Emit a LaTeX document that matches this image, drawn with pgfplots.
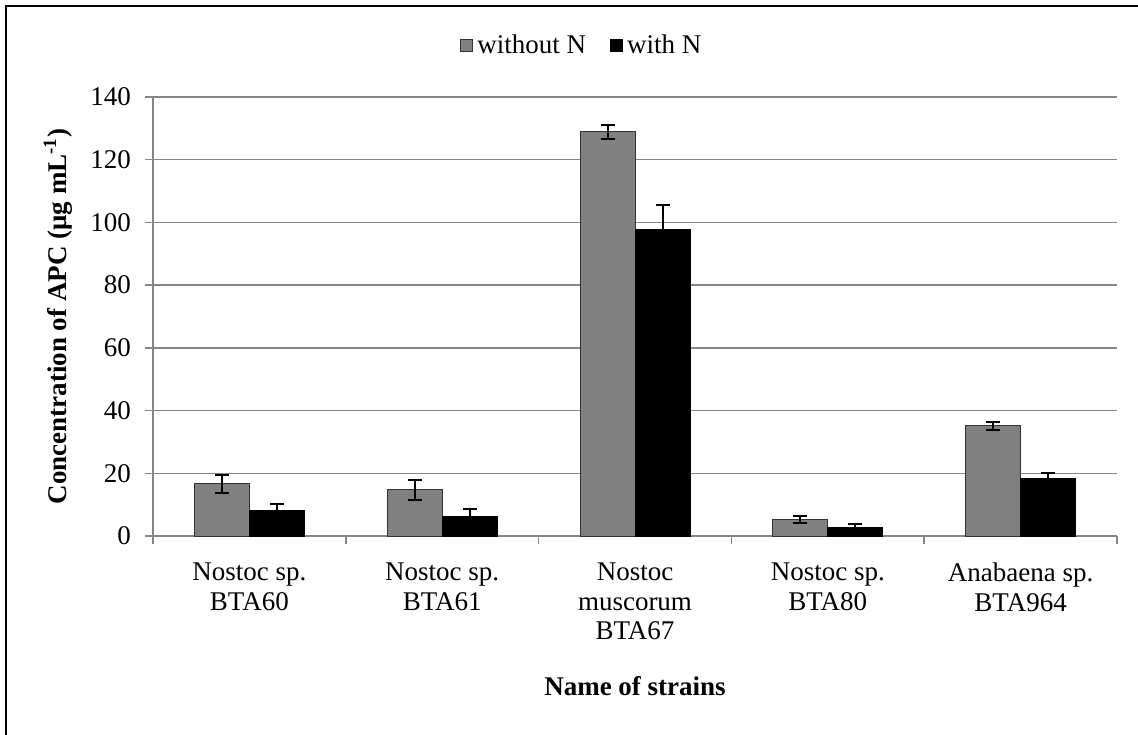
\documentclass[border=0pt]{standalone}
\usepackage{fontspec}
\setmainfont{Liberation Serif}
\usepackage{pgfplots}
\pgfplotsset{compat=1.18}
\definecolor{barGray}{HTML}{808080}
\definecolor{gridGray}{HTML}{868686}
\begin{document}
\begin{tikzpicture}[font=\fontsize{13.5}{15.5}\selectfont]
\useasboundingbox (-76.5pt,-99pt) rectangle (492.5pt,268pt);
\draw[line width=1.4pt] (-73.5pt,-99.5pt) -- (-73.5pt,265pt) -- (493pt,265pt);
\begin{axis}[
  scale only axis,
  width=482pt, height=219.5pt,
  ybar=0pt, bar width=27.5pt,
  xmin=-0.5, xmax=4.5,
  ymin=0, ymax=140,
  ytick={0,20,...,140},
  xtick={0,1,2,3,4},
  xticklabels={{Nostoc sp.\\BTA60},{Nostoc sp.\\BTA61},{Nostoc\\muscorum\\BTA67},{Nostoc sp.\\BTA80},{Anabaena sp.\\BTA964}},
  minor xtick={-0.5,0.5,...,4.5},
  major x tick style={draw=none},
  minor tick length=4pt, major tick length=4pt,
  tick align=outside,
  tick style={gridGray, line width=0.75pt},
  axis x line*=bottom, axis y line*=left,
  axis line style={gridGray, line width=0.75pt, -},
  ymajorgrids, grid style={gridGray, line width=0.75pt},
  xticklabel style={align=center, font=\fontsize{13.5}{14.8}\selectfont, yshift=-6pt},
  yticklabel style={xshift=-3.5pt},
  /pgf/number format/assume math mode=true,
  ticklabel style={font=\fontsize{13.5}{15}\selectfont},
  xlabel={\textbf{Name of strains}},
  xlabel style={at={(axis description cs:0.5,-0.3417)}, anchor=center},
  ylabel={\textbf{Concentration of APC (μg mL\textsuperscript{-1})}},
  ylabel style={at={(axis description cs:-0.0985,0.5)}, anchor=center, rotate=0},
  legend style={at={(axis description cs:0.446,1.118)}, anchor=center, draw=none, fill=none,
    legend columns=2, /tikz/every even column/.append style={column sep=10pt},
    font=\fontsize{13.5}{15}\selectfont},
  legend image code/.code={\draw[#1, line width=0.5pt] (0pt,-3pt) rectangle (6pt,3pt);},
  error bars/y dir=both, error bars/y explicit,
  error bars/error bar style={black, line width=1pt},
  error bars/error mark options={rotate=90, mark size=3.5pt, line width=1pt, black},
]
\addplot[fill=barGray, draw=black!80, line width=0.5pt] coordinates {
  (0,16.6) +- (0,3.0)
  (1,14.7) +- (0,3.2)
  (2,128.9) +- (0,2.2)
  (3,5.3) +- (0,1.2)
  (4,35.1) +- (0,1.3)
};
\addplot[fill=black, draw=black, line width=0.5pt] coordinates {
  (0,8.0) +- (0,2.3)
  (1,6.3) +- (0,2.4)
  (2,97.6) +- (0,8.0)
  (3,2.6) +- (0,1.3)
  (4,18.4) +- (0,1.6)
};
\legend{without N, with N}
\end{axis}
\end{tikzpicture}
\end{document}
